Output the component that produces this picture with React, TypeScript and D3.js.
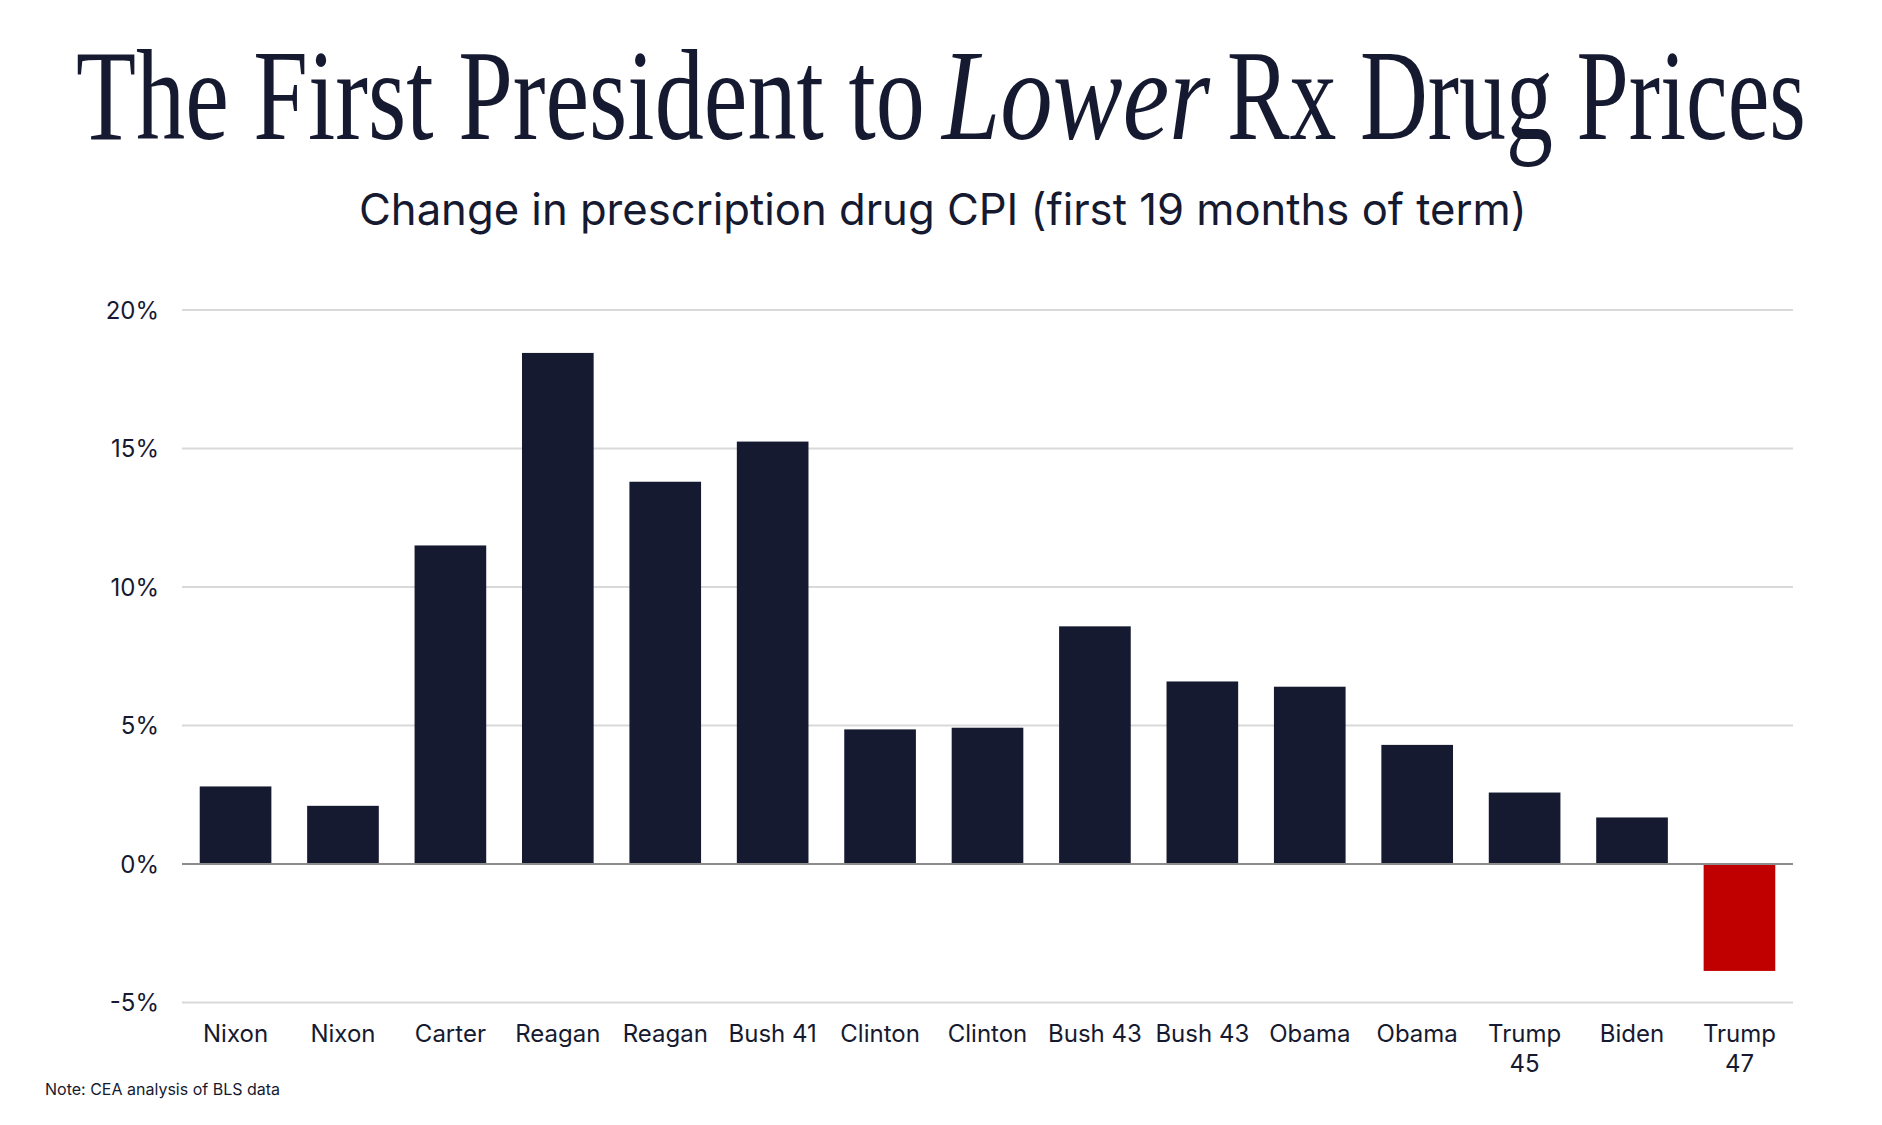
import { useEffect, useRef } from 'react'
import * as d3 from 'd3'

const presidents = [
  'Nixon', 'Nixon', 'Carter', 'Reagan', 'Reagan', 'Bush 41', 'Clinton', 'Clinton',
  'Bush 43', 'Bush 43', 'Obama', 'Obama', 'Trump\n45', 'Biden', 'Trump\n47',
]
const cpiChange = [2.8, 2.1, 11.5, 18.45, 13.8, 15.25, 4.86, 4.92, 8.58, 6.59, 6.4, 4.3, 2.58, 1.68, -3.86]
const yTicks = [-5, 0, 5, 10, 15, 20]

// title pieces: text, italic?, left edge, width
const titleParts: [string, boolean, number, number][] = [
  ['The First President to', false, 76, 849],
  ['Lower', true, 942, 268],
  ['Rx Drug Prices', false, 1227, 579],
]

const W = 1882
const H = 1125
const NAVY = '#161a30'
const RED = '#c00000'
const SANS = 'Inter, "Noto Sans", sans-serif'

export default function App() {
  const ref = useRef<SVGSVGElement | null>(null)

  useEffect(() => {
    if (!ref.current) return
    const svg = d3.select(ref.current)
    svg.selectAll('*').remove()

    const left = 182
    const right = 1793
    const top = 310
    const bottom = 1002.5

    const x = d3
      .scaleBand<number>()
      .domain(presidents.map((_, i) => i))
      .range([left, right])
      .paddingInner(0.333)
      .paddingOuter(0.165)

    const y = d3.scaleLinear().domain([-5, 20]).range([bottom, top])

    // squeeze a text horizontally so it spans the given width
    const fitText = (
      sel: d3.Selection<SVGTextElement, unknown, null, undefined>,
      x0: number,
      y0: number,
      width: number,
    ) => {
      const len = (sel.node() as SVGTextElement).getComputedTextLength() || width
      sel.attr('transform', `translate(${x0},${y0}) scale(${width / len},1)`)
    }

    // title
    titleParts.forEach(([txt, italic, x0, w]) => {
      const t = svg
        .append('text')
        .attr('font-family', '"Liberation Serif", "DejaVu Serif", serif')
        .attr('font-style', italic ? 'italic' : 'normal')
        .attr('font-size', 130)
        .attr('fill', NAVY)
        .text(txt) as unknown as d3.Selection<SVGTextElement, unknown, null, undefined>
      fitText(t, x0, 139, w)
    })

    const sub = svg
      .append('text')
      .attr('font-family', SANS)
      .attr('font-size', 44)
      .attr('fill', NAVY)
      .text('Change in prescription drug CPI (first 19 months of term)') as unknown as d3.Selection<
      SVGTextElement,
      unknown,
      null,
      undefined
    >
    fitText(sub, 359, 225, 1168)

    // grid + y labels
    const grid = svg.append('g')
    grid
      .selectAll('line')
      .data(yTicks.filter((t) => t !== 0))
      .enter()
      .append('line')
      .attr('x1', left)
      .attr('x2', right)
      .attr('y1', (d) => y(d))
      .attr('y2', (d) => y(d))
      .attr('stroke', '#d9d9d9')
      .attr('stroke-width', 2)

    grid
      .selectAll('text')
      .data(yTicks)
      .enter()
      .append('text')
      .attr('x', 159)
      .attr('y', (d) => y(d))
      .attr('dy', '0.36em')
      .attr('text-anchor', 'end')
      .attr('font-family', SANS)
      .attr('font-size', 24)
      .attr('fill', NAVY)
      .text((d) => `${d}%`)

    // bars
    svg
      .append('g')
      .selectAll('rect')
      .data(cpiChange)
      .enter()
      .append('rect')
      .attr('x', (_, i) => x(i) ?? 0)
      .attr('y', (d) => y(Math.max(0, d)))
      .attr('width', x.bandwidth())
      .attr('height', (d) => Math.abs(y(d) - y(0)))
      .attr('fill', (d) => (d < 0 ? RED : NAVY))

    // zero line
    svg
      .append('line')
      .attr('x1', left)
      .attr('x2', right)
      .attr('y1', y(0))
      .attr('y2', y(0))
      .attr('stroke', '#8c8c8c')
      .attr('stroke-width', 2)

    // x labels
    const labels = svg
      .append('g')
      .selectAll('text')
      .data(presidents)
      .enter()
      .append('text')
      .attr('text-anchor', 'middle')
      .attr('font-family', SANS)
      .attr('font-size', 24)
      .attr('fill', NAVY)

    labels.each(function (d, i) {
      const cx = (x(i) ?? 0) + x.bandwidth() / 2
      d.split('\n').forEach((line, k) => {
        d3.select(this)
          .append('tspan')
          .attr('x', cx)
          .attr('y', 1042 + k * 30)
          .text(line)
      })
    })

    svg
      .append('text')
      .attr('x', 45)
      .attr('y', 1095)
      .attr('font-family', SANS)
      .attr('font-size', 16)
      .attr('fill', NAVY)
      .text('Note: CEA analysis of BLS data')
  }, [])

  return (
    <svg
      ref={ref}
      width={W}
      height={H}
      viewBox={`0 0 ${W} ${H}`}
      style={{ position: 'absolute', left: 0, top: 0, background: '#fff' }}
    />
  )
}
